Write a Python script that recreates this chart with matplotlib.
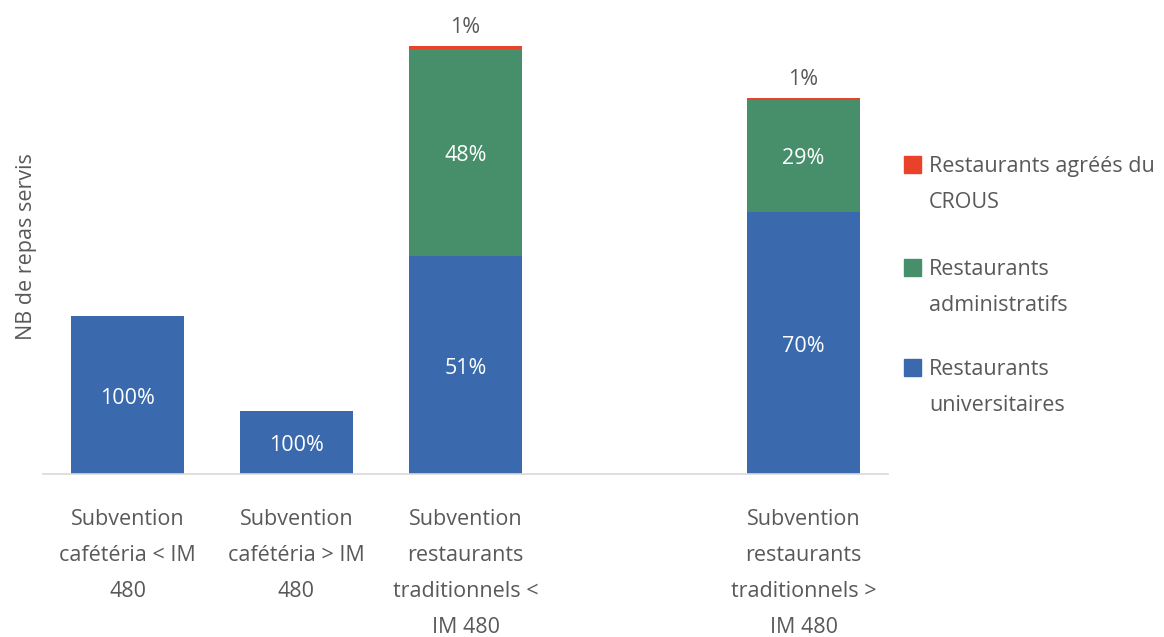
import matplotlib.pyplot as plt
from matplotlib.patches import Rectangle
import numpy as np

# data (meals served, approximate units)
categories = ["Subvention\ncafétéria < IM\n480",
              "Subvention\ncafétéria > IM\n480",
              "Subvention\nrestaurants\ntraditionnels <\nIM 480",
              "",
              "Subvention\nrestaurants\ntraditionnels >\nIM 480"]
universitaires = [158, 63, 218, 0, 262]
administratifs = [0, 0, 207, 0, 112]
agrees = [0, 0, 3, 0, 2]

lbl_univ = ["100%", "100%", "51%", "", "70%"]
lbl_admin = ["", "", "48%", "", "29%"]
lbl_agrees = ["", "", "1%", "", "1%"]

series_names = ["Restaurants\nuniversitaires", "Restaurants\nadministratifs",
                "Restaurants agréés du\nCROUS"]
colors = ["#3a6aad", "#478f6b", "#e8432a"]
GRAY = "#595959"
FS = 15.5

plt.rcParams['font.family'] = ['Open Sans', 'DejaVu Sans']

fig = plt.figure(figsize=(11.64, 6.37), dpi=100)
ax = fig.add_axes([43 / 1164, 163 / 637, 845 / 1164, 454 / 637])

x = np.arange(len(categories))
w = 0.665
univ = np.array(universitaires)
adm = np.array(administratifs)
agr = np.array(agrees)

ax.bar(x, univ, w, color=colors[0])
ax.bar(x, adm, w, bottom=univ, color=colors[1])
ax.bar(x, agr, w, bottom=univ + adm, color=colors[2])

for i in range(len(x)):
    if lbl_univ[i]:
        ax.text(x[i], univ[i] / 2 - 3, lbl_univ[i], ha='center', va='center',
                color='white', fontsize=FS)
    if lbl_admin[i]:
        ax.text(x[i], univ[i] + adm[i] / 2 - 3, lbl_admin[i], ha='center',
                va='center', color='white', fontsize=FS)
    if lbl_agrees[i]:
        ax.text(x[i], univ[i] + adm[i] + agr[i] + 8, lbl_agrees[i],
                ha='center', va='bottom', color=GRAY, fontsize=FS)

ax.set_xlim(-0.5, len(x) - 0.5)
ax.set_ylim(0, 454)
ax.set_xticks(x)
ax.set_xticklabels(categories, fontsize=FS, color=GRAY, linespacing=1.95)
ax.tick_params(axis='x', length=0, pad=25)
ax.set_yticks([])
for s in ['top', 'right', 'left']:
    ax.spines[s].set_visible(False)
ax.spines['bottom'].set_color('#d9d9d9')
ax.spines['bottom'].set_linewidth(1.2)

ax.set_ylabel("NB de repas servis", fontsize=FS, color=GRAY, labelpad=4)

# legend drawn by hand so the swatch lines up with the first text line
leg_order = [2, 1, 0]
leg_y = [165, 268, 368]
for k, y in zip(leg_order, leg_y):
    fig.patches.append(Rectangle((904 / 1164, 1 - (y + 8) / 637), 17 / 1164, 17 / 637,
                                 transform=fig.transFigure, color=colors[k]))
    fig.text(929 / 1164, 1 - (y - 9) / 637, series_names[k], ha='left', va='top',
             fontsize=FS, color=GRAY, linespacing=1.95)

fig.savefig("out.png", dpi=100)
